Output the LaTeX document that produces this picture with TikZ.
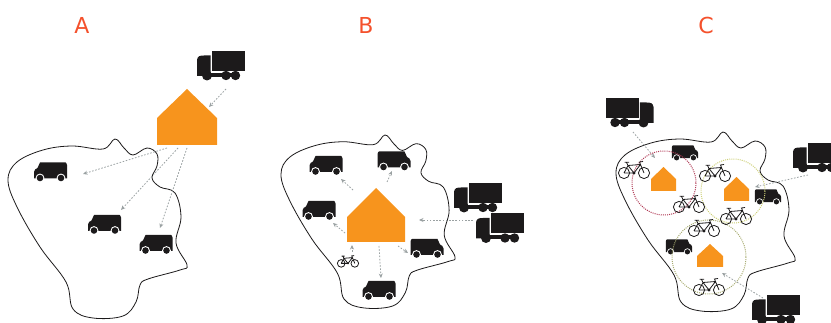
\documentclass[tikz,border=0pt]{standalone}
\usepackage{fontspec}
\setmainfont{DejaVu Sans}
\usetikzlibrary{arrows.meta}
\definecolor{hs}{HTML}{F7941D}
\definecolor{lab}{HTML}{F4512C}
\definecolor{ink}{HTML}{1C1A1B}
\definecolor{ag}{HTML}{9AA1A2}
\definecolor{zonered}{HTML}{B03A55}
\definecolor{zoneyel}{HTML}{CDD078}
\definecolor{zoneoli}{HTML}{A8AC72}
\tikzset{
  title/.style={text=lab,font=\fontsize{22}{24}\selectfont,inner sep=0pt},
  flow/.style={draw=ag,line width=.8pt,dash pattern=on 1.6pt off 1.6pt,-{Stealth[length=4.5pt,width=4pt]}},
  blob/.style={draw=ink,line width=.8pt},
  zone/.style={line width=1pt,dash pattern=on 1pt off 1.1pt},
  pics/van/.style={code={
    \fill[ink] (-16.5,6.5) -- (-16.5,0) .. controls (-16.5,-2.5) and (-14.5,-3) .. (-13,-4) -- (-10.5,-9.5) -- (15,-9.5) .. controls (16,-9.5) and (16,-8) .. (16.5,-7) -- (16.5,6.5) -- cycle;
    \foreach \wx in {-10.5,10.5}{
      \fill[white] (\wx,6) circle (4.4);
      \fill[ink] (\wx,6) circle (3.3);}
  }},
  pics/truck/.style={code={
    \fill[ink] (-9,-15) rectangle (24,5);
    \fill[ink] (-24,-6) .. controls (-23.5,-10) and (-21,-10.5) .. (-17,-10.5) -- (-10.3,-10.5) -- (-10.3,10) -- (-24,10) -- cycle;
    \fill[ink] (-10.3,7) rectangle (18,11);
    \foreach \wx/\wr in {-14/5,5/4.7,14.5/4.7}{\fill[ink] (\wx,9.5) circle (\wr);}
  }},
  pics/bike/.style={code={
    \draw[ink,line width=.8pt] (-10,5) circle (5.6) (10,5) circle (5.6);
    \draw[ink,line width=.8pt] (-10,5) -- (-6,-2.5) -- (6.5,-3.5) -- (10,5) (-6,-2.5) -- (0,5) -- (6.5,-3.5) (0,5) -- (-10,5)
      (-7.5,-5.5) -- (-6,-2.5) (-9.5,-5.7) -- (-5,-5.7) (6.5,-3.5) -- (5.5,-6) -- (9,-6.5);
    \fill[ink] (0,5) circle (1.6);
  }}
}
\newcommand{\blobshape}{plot[smooth cycle,tension=.62] coordinates {(115,139) (124,148) (133,155) (147,148) (157,154) (157,166) (152,178) (160,187) (175,193) (181,217) (176,243) (187,265) (180,270) (148,279) (140,285) (136,302) (123,316) (93,318) (73,309) (66,282) (40,247) (17,207) (8,180) (17,162) (43,150) (72,146) (103,149)}}
\begin{document}
\begin{tikzpicture}[x=1pt,y=-1pt]
\useasboundingbox (0,0) rectangle (831,323);
\clip (0,0) rectangle (831,323);
\node[title] (la) at (82,25) {A};
\node[title] (lb) at (366,25) {B};
\node[title] (lc) at (706,25) {C};

% A
\draw[blob] \blobshape;
\fill[hs] (157,145) -- (157,118) -- (187,89) -- (217,118) -- (217,145) -- cycle;
\pic at (221,66) {truck};
\pic at (50.5,172) {van};
\pic at (104.5,224.5) {van};
\pic at (156,244.5) {van};
\coordinate (a0) at (226,89); \coordinate (a1) at (209,107);
\coordinate (a2) at (167,148); \coordinate (a3) at (83,174);
\coordinate (a4) at (178,148); \coordinate (a5) at (121,210);
\coordinate (a6) at (187,148); \coordinate (a7) at (160,228);
\draw[flow] (a0) -- (a1);
\draw[flow] (a2) -- (a3);
\draw[flow] (a4) -- (a5);
\draw[flow] (a6) -- (a7);

% B
\begin{scope}[shift={(273.2,0.7)},xscale=.972,yscale=.966]
\draw[blob] \blobshape;
\end{scope}
\fill[hs] (347,242) -- (347,217) -- (376,188) -- (405,217) -- (405,242) -- cycle;
\pic at (326,165.5) {van};
\pic[xscale=-1] at (394,161) {van};
\pic at (319,210.5) {van};
\pic[xscale=-1] at (427,248.5) {van};
\pic at (379,290.5) {van};
\pic at (478,198) {truck};
\pic at (500,228.5) {truck};
\pic[scale=.68] at (348,260) {bike};
\coordinate (b0) at (353,190); \coordinate (b1) at (341,179);
\coordinate (b2) at (387,182); \coordinate (b3) at (392,171);
\coordinate (b4) at (345,233); \coordinate (b5) at (333,223);
\coordinate (b6) at (352,252); \coordinate (b7) at (352,245);
\coordinate (b8) at (398,246); \coordinate (b9) at (408,253);
\coordinate (b10) at (379,246); \coordinate (b11) at (381,278);
\coordinate (b12) at (473,220); \coordinate (b13) at (419,220);
\foreach \s/\e in {b0/b1,b2/b3,b4/b5,b6/b7,b8/b9,b10/b11,b12/b13}{\draw[flow] (\s) -- (\e);}

% C
\begin{scope}[shift={(608,-7)}]
\draw[blob] \blobshape;
\end{scope}
\fill[hs] (651,191) -- (651,179) -- (663.5,167) -- (676,179) -- (676,191) -- cycle;
\fill[hs] (724,201) -- (724,189) -- (736.5,177) -- (749,189) -- (749,201) -- cycle;
\fill[hs] (697,267) -- (697,256) -- (710,244) -- (723,256) -- (723,267) -- cycle;
\pic[xscale=-.8,yscale=.8] at (685,153) {van};
\pic[xscale=-.8,yscale=.8] at (768,197) {van};
\pic[xscale=-.8,yscale=.8] at (679,247) {van};
\draw[zone,draw=zonered] (664,183) circle (32);
\draw[zone,draw=zoneyel] (733,191) circle (32);
\draw[zone,draw=zoneoli] (709,257) circle (37);
\pic[xscale=-1] at (629.5,113) {truck};
\pic at (817,158) {truck};
\pic at (776,310) {truck};
\pic at (634,168) {bike};
\pic at (689,202) {bike};
\pic at (715,171) {bike};
\pic at (736,214) {bike};
\pic at (704,226) {bike};
\pic at (709,285) {bike};
\coordinate (c0) at (633,132); \coordinate (c1) at (655,158);
\coordinate (c2) at (808,175); \coordinate (c3) at (755,187);
\coordinate (c4) at (763,298); \coordinate (c5) at (722,273);
\draw[flow] (c0) -- (c1);
\draw[flow] (c2) -- (c3);
\draw[flow] (c4) -- (c5);
\end{tikzpicture}
\end{document}
